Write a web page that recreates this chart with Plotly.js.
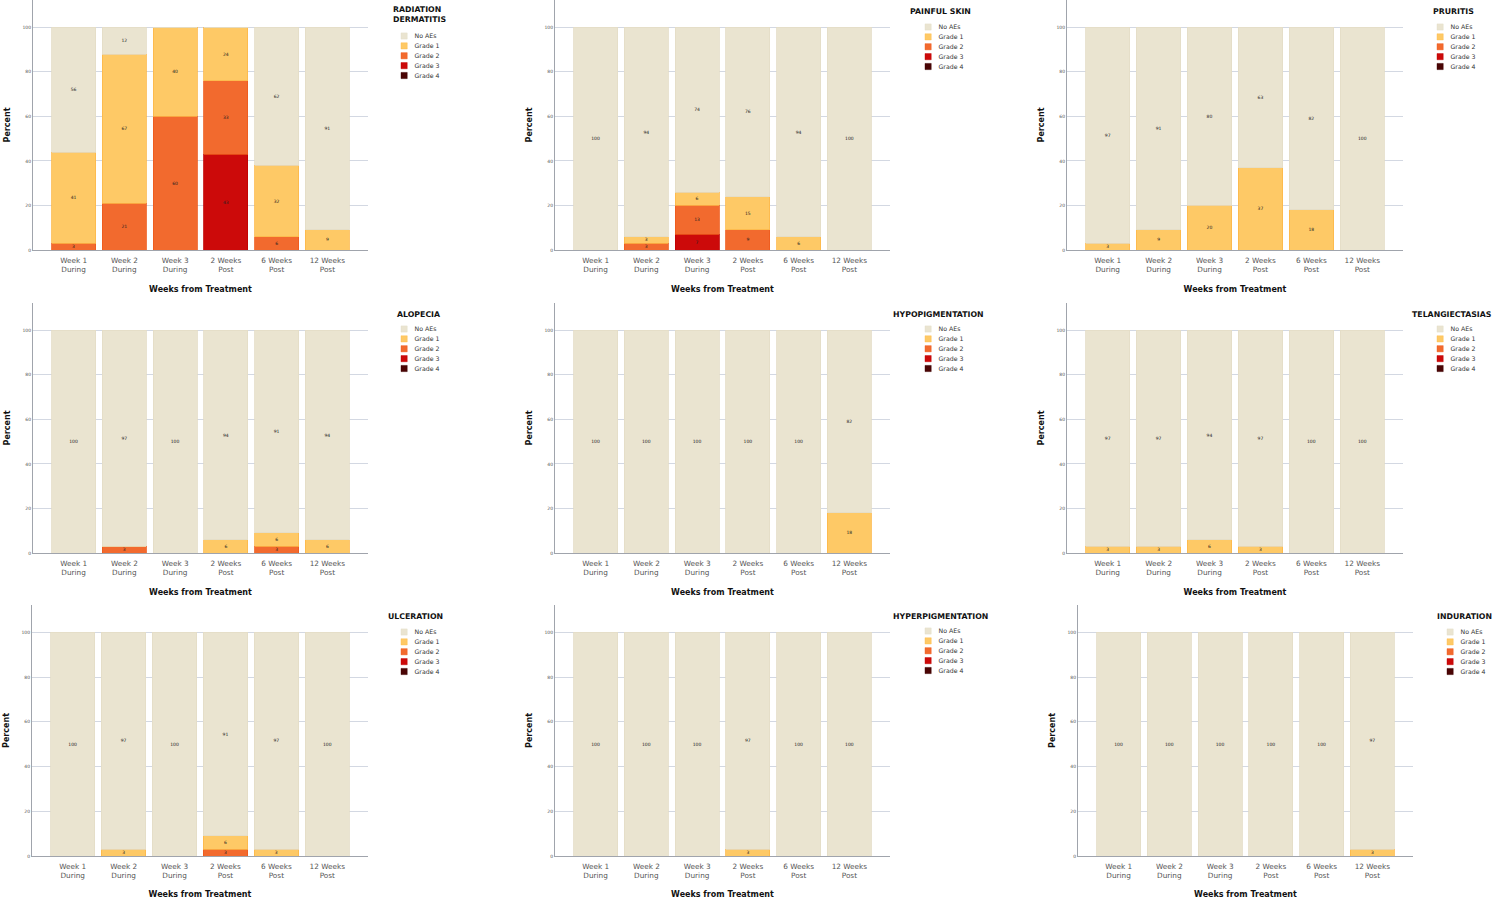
<!DOCTYPE html>
<html><head><meta charset="utf-8">
<script src="https://cdn.plot.ly/plotly-3.0.1.min.js"></script>
<style>html,body{margin:0;padding:0;background:#fff;overflow:hidden}#chart{width:1500px;height:899px}</style>
</head><body><div id="chart"></div><script>
// ---------- data ----------
const categories = ['Week 1<br>During','Week 2<br>During','Week 3<br>During','2 Weeks<br>Post','6 Weeks<br>Post','12 Weeks<br>Post'];
const gradeNames = ['No AEs','Grade 1','Grade 2','Grade 3','Grade 4'];
const panelTitles = ['RADIATION<br>DERMATITIS','PAINFUL SKIN','PRURITIS','ALOPECIA','HYPOPIGMENTATION','TELANGIECTASIAS','ULCERATION','HYPERPIGMENTATION','INDURATION'];
// rows: No AEs, Grade 1, Grade 2, Grade 3, Grade 4 (percent)
const radiationDermatitis = [[56,12,0,0,62,91],[41,67,40,24,32,9],[3,21,60,33,6,0],[0,0,0,43,0,0],[0,0,0,0,0,0]];
const painfulSkin        = [[100,94,74,76,94,100],[0,3,6,15,6,0],[0,3,13,9,0,0],[0,0,7,0,0,0],[0,0,0,0,0,0]];
const pruritis           = [[97,91,80,63,82,100],[3,9,20,37,18,0],[0,0,0,0,0,0],[0,0,0,0,0,0],[0,0,0,0,0,0]];
const alopecia           = [[100,97,100,94,91,94],[0,0,0,6,6,6],[0,3,0,0,3,0],[0,0,0,0,0,0],[0,0,0,0,0,0]];
const hypopigmentation   = [[100,100,100,100,100,82],[0,0,0,0,0,18],[0,0,0,0,0,0],[0,0,0,0,0,0],[0,0,0,0,0,0]];
const telangiectasias    = [[97,97,94,97,100,100],[3,3,6,3,0,0],[0,0,0,0,0,0],[0,0,0,0,0,0],[0,0,0,0,0,0]];
const ulceration         = [[100,97,100,91,97,100],[0,3,0,6,3,0],[0,0,0,3,0,0],[0,0,0,0,0,0],[0,0,0,0,0,0]];
const hyperpigmentation  = [[100,100,100,97,100,100],[0,0,0,3,0,0],[0,0,0,0,0,0],[0,0,0,0,0,0],[0,0,0,0,0,0]];
const induration         = [[100,100,100,100,100,97],[0,0,0,0,0,3],[0,0,0,0,0,0],[0,0,0,0,0,0],[0,0,0,0,0,0]];
const panelData = [radiationDermatitis,painfulSkin,pruritis,alopecia,hypopigmentation,telangiectasias,ulceration,hyperpigmentation,induration];

// ---------- styling ----------
const gradeColors = ['#EAE4D0','#FEC966','#F26A2E','#CC0A0A','#4A0404'];
const gradeEdges  = ['#E3DCC6','#FDB848','#EE5A1C','#C00000','#3A0000'];
const W = 1500, H = 899, LS = 0.52;
const FONT = 'DejaVu Sans, Liberation Sans, sans-serif';
const xPix = [[33,368],[555,890],[1067,1403],[33,368],[555,890],[1067,1403],[32,368],[555,890],[1078,1413]];
const yPix = [[0,250],[303,553],[605,856]];
// legend placement in page px: first swatch left / first item centre y, title left / title top
const swatchPos = [[401,36],[925,27],[1437,27],[401,329],[925,329],[1437,329],[401,632],[925,631],[1447,632]];
const titlePos  = [[393,5],[910,7],[1433,7],[397,310],[893,310],[1412,310],[388,612],[893,612],[1437,612]];

const traces = [];
const layout = {
  width: W, height: H, margin:{l:0,r:0,t:0,b:0,autoexpand:false},
  paper_bgcolor:'#fff', plot_bgcolor:'rgba(0,0,0,0)',
  barmode:'stack', bargap:0.13, showlegend:true,
  font:{family:FONT, color:'#333'}
};

panelData.forEach((rows, p) => {
  const sfx = p === 0 ? '' : String(p+1);
  const xa = 'xaxis'+sfx, ya = 'yaxis'+sfx, lg = 'legend'+sfx;
  for (let g = 4; g >= 0; g--) {
    traces.push({
      type:'bar', x: categories, y: rows[g], name: gradeNames[g],
      xaxis:'x'+sfx, yaxis:'y'+sfx, legend: lg,
      marker:{color: gradeColors[g], line:{color: gradeEdges[g], width:0.8}},
      text: rows[g].map(v => v > 0 ? String(v) : ''),
      textposition:'inside', insidetextanchor:'middle', textangle:0, constraintext:'none',
      textfont:{size:4.5, color:'#222', family:FONT},
      hoverinfo:'name+y'
    });
  }
  const r = Math.floor(p/3);
  layout[xa] = {
    domain:[xPix[p][0]/W, xPix[p][1]/W], anchor:'y'+sfx,
    type:'category', range:[-0.8,5.8], showline:true, linecolor:'#A0A4AC', linewidth:1,
    ticks:'', ticklabelstandoff:3, tickfont:{size:7.3, color:'#555', family:FONT}, showgrid:false, zeroline:false,
    title:{text:'<b>Weeks from Treatment</b>', font:{size:8, color:'#111', family:FONT}, standoff:13}
  };
  layout[ya] = {
    domain:[1 - yPix[r][1]/H, 1 - yPix[r][0]/H], anchor:'x'+sfx,
    range:[0,112.3], tickvals:[0,20,40,60,80,100], showline:true, linecolor:'#A0A4AC', linewidth:1,
    ticks:'', tickfont:{size:4.5, color:'#555', family:FONT},
    showgrid:true, gridcolor:'#D3D8E2', gridwidth:1, zeroline:false,
    title:{text:'<b>Percent</b>', font:{size:8, color:'#111', family:FONT}, standoff:10}
  };
  layout[lg] = {
    x: swatchPos[p][0]/W, y: 1 - (swatchPos[p][1]-20)/H, xanchor:'left', yanchor:'top',
    traceorder:'reversed', bgcolor:'rgba(0,0,0,0)', borderwidth:0,
    font:{size:12, color:'#333', family:FONT}, tracegroupgap:0,
    title:{text:'<b>'+panelTitles[p]+'</b>', side:'top left', font:{size:15, color:'#111', family:FONT}}
  };
});

Plotly.newPlot('chart', traces, layout, {displayModeBar:false, staticPlot:true}).then(() => {
  const legends = [];
  document.querySelectorAll('.infolayer > g').forEach(g => {
    const c = g.getAttribute('class') || '';
    const m = c.match(/^legend(\d*)$/);
    if (m) legends.push([m[1] === '' ? 0 : parseInt(m[1],10)-1, g]);
  });
  legends.forEach(([p, g]) => {
    g.querySelectorAll('[clip-path]').forEach(el => el.removeAttribute('clip-path'));
    const t0 = g.getAttribute('transform') || '';
    g.setAttribute('transform', t0 + ' scale(' + LS + ')');
    let top = null;
    g.querySelectorAll('.legendpoints').forEach(lp => {
      const rc = lp.getBoundingClientRect();
      if (rc.height > 0 && (top === null || rc.top < top.top)) top = rc;
    });
    if (top) {
      const dx = swatchPos[p][0] - top.left;
      const dy = swatchPos[p][1] - (top.top + top.height/2);
      g.setAttribute('transform', 'translate(' + dx + ',' + dy + ') ' + t0 + ' scale(' + LS + ')');
    }
    const tt = g.querySelector('[class$="titletext"]');
    if (tt) {
      const rc = tt.getBoundingClientRect();
      const dx = (titlePos[p][0] - rc.left) / LS;
      const dy = (titlePos[p][1] - rc.top) / LS;
      const tr = tt.getAttribute('transform') || '';
      tt.setAttribute('transform', 'translate(' + dx + ',' + dy + ') ' + tr);
    }
  });
});
</script></body></html>
